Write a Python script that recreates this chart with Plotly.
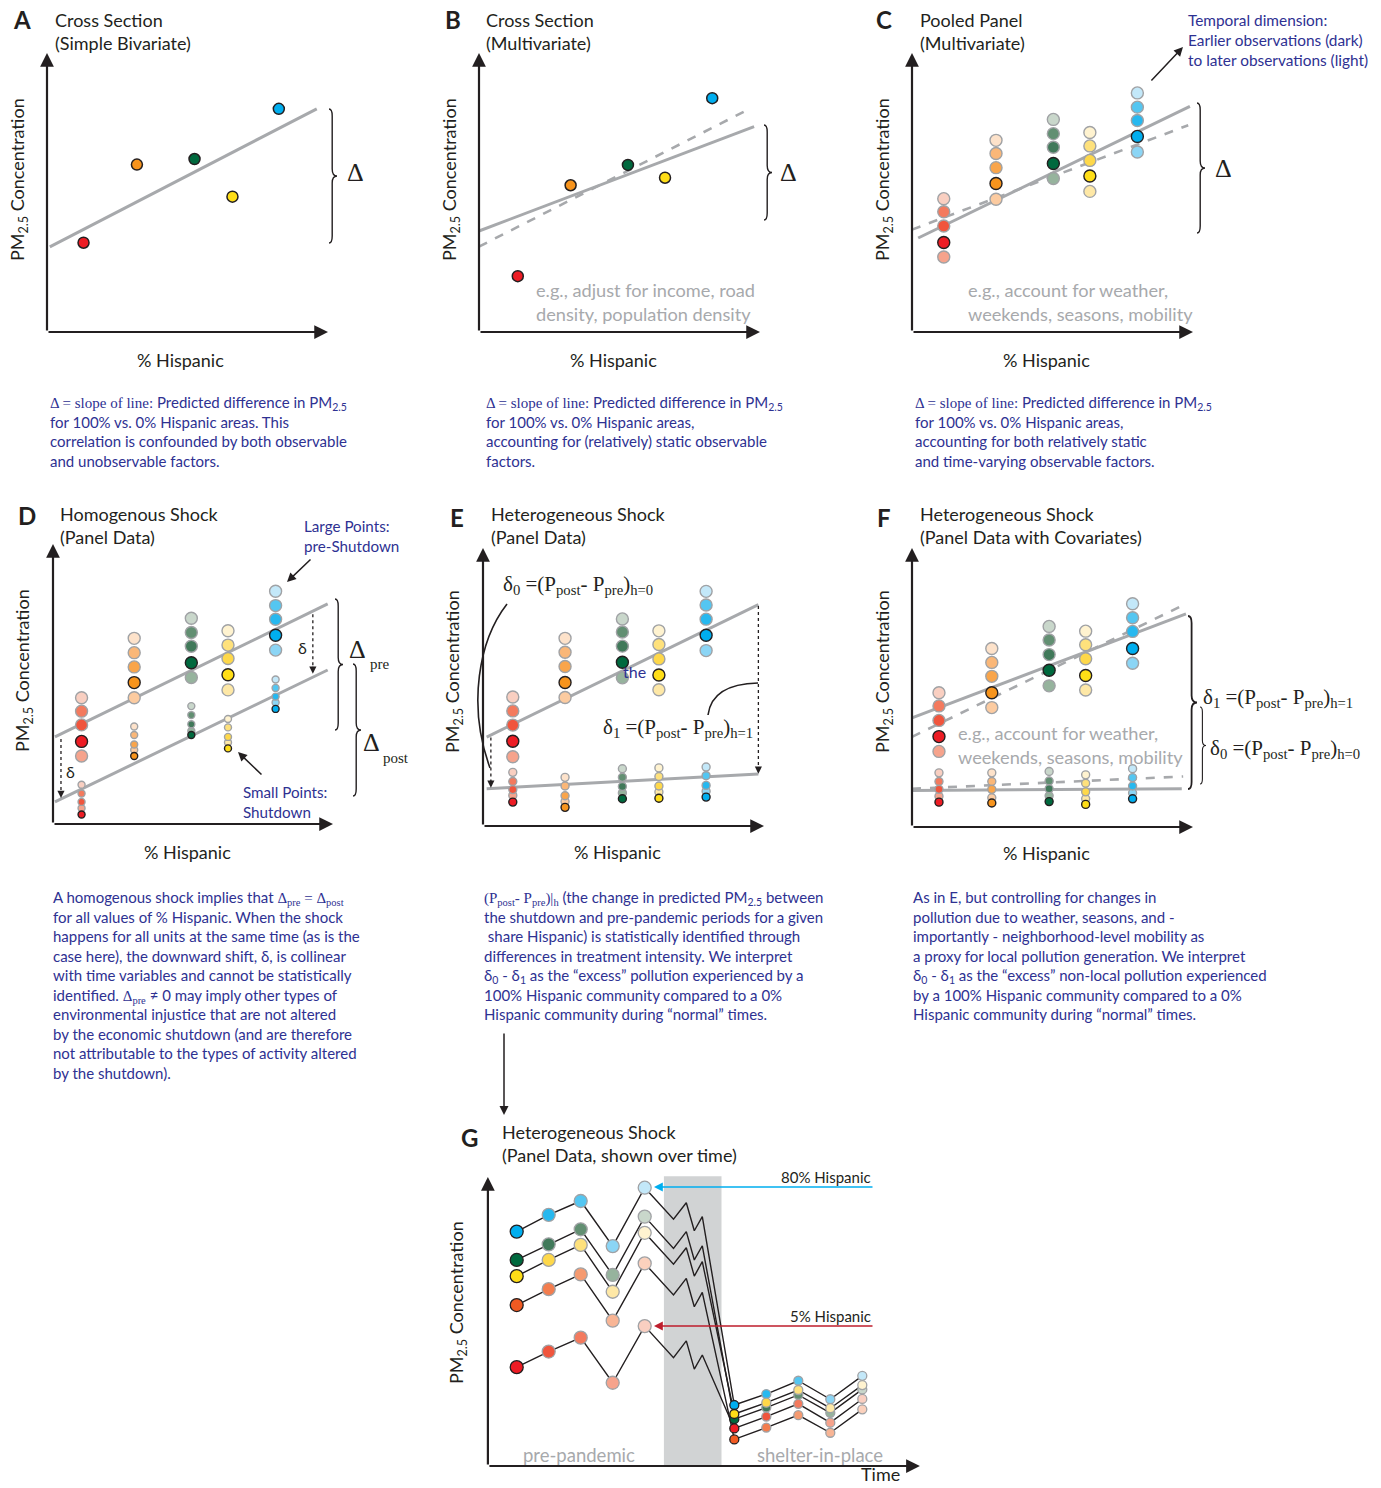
import plotly.graph_objects as go

W, H = 1381, 1488
SANS = "Lato, 'Open Sans', 'DejaVu Sans', sans-serif"
SERIF = "'Liberation Serif', 'DejaVu Serif', serif"
INK = "#231f20"
NAVY = "#2e3192"
LIGHT_GRAY = "#a7a9ac"
EDGE_GRAY = "#a0a2a5"
SHADE = "#d1d3d4"

# ---- colour ramps: earliest observation (dark) to latest (light)
ramp_red = ["#ed1c24", "#f0553d", "#f37a5e", "#f6a38c", "#f9cfc1"]
ramp_orange = ["#f7941d", "#f9a54b", "#fab778", "#fccba0", "#fde2ca"]
ramp_green = ["#00693e", "#41795a", "#628f72", "#96b39d", "#c9d7cb"]
ramp_yellow = ["#ffde17", "#fed84a", "#fee17c", "#fee8a6", "#fff3d0"]
ramp_blue = ["#00aeef", "#27b8ef", "#54c6f1", "#8bd5f5", "#c3e8f9"]
ramp_redorange = ["#f15a22", "#f37d4e", "#f59a70", "#f8b595", "#fbd1bd"]
group_ramps = [ramp_red, ramp_orange, ramp_green, ramp_yellow, ramp_blue]

# ---- A: simple bivariate cross section (% Hispanic vs PM2.5, arbitrary units)
a_hispanic = [13, 32, 52.5, 66, 82.5]
a_pm = [32, 60, 62, 48.5, 80]
a_fit_x, a_fit_y = [1, 96], [30.5, 80]

# ---- B: multivariate cross section
b_hispanic = [13.8, 32.6, 53, 66.2, 83]
b_pm = [20, 52.6, 59.9, 55.3, 83.8]
b_fit_x, b_fit_y = [0, 97.9], [36.2, 73.6]
b_adj_x, b_adj_y = [0, 96.7], [30.6, 80.2]

# ---- C: pooled panel, five observations per area (time order t0..t4)
c_hispanic = [11.3, 29.9, 50.3, 63.3, 80.2]
c_pm = [
    [32.1, 38.0, 43.1, 26.9, 47.8],
    [53.2, 58.9, 64.0, 47.6, 68.7],
    [60.4, 66.2, 71.1, 55.0, 76.2],
    [55.9, 61.5, 66.7, 50.4, 71.5],
    [70.1, 75.8, 80.6, 64.5, 85.7],
]
c_fit_x, c_fit_y = [2.2, 98.9], [33.7, 80.9]
c_adj_x, c_adj_y = [0, 98.3], [36.7, 74.1]

# ---- D: homogenous shock
d_hispanic = [10.2, 29, 49.4, 62.5, 79.5]
d_pm_pre = [
    [29.5, 35.4, 40.3, 24.3, 45.1],
    [50.5, 56.1, 61.2, 45.1, 66.3],
    [57.6, 63.5, 68.4, 52.3, 73.5],
    [53.3, 59.1, 63.9, 47.9, 69.0],
    [67.4, 73.1, 78.0, 62.1, 83.1],
]
d_pm_post = [
    [3.4, 7.9, 10.9, 5.6, 14.0],
    [24.3, 28.4, 31.8, 26.4, 34.8],
    [31.8, 35.6, 38.9, 33.2, 42.1],
    [27.0, 31.1, 34.5, 29.1, 37.5],
    [41.1, 45.5, 48.6, 43.4, 51.6],
]
d_fit_pre_x, d_fit_pre_y = [0.7, 98.1], [31.1, 78.6]
d_fit_post_x, d_fit_post_y = [0.7, 98.1], [7.9, 55.0]

# ---- E: heterogeneous shock
e_hispanic = [10.6, 29.2, 49.6, 62.6, 79.4]
e_pm_pre = [
    [30.5, 36.3, 41.4, 24.9, 46.4],
    [51.6, 57.4, 62.5, 46.2, 67.5],
    [58.9, 64.7, 69.8, 53.3, 74.5],
    [54.3, 60.1, 65.3, 49.0, 70.2],
    [68.6, 74.4, 79.5, 63.1, 84.4],
]
e_pm_post = [
    [8.6, 13.1, 16.0, 11.0, 19.3],
    [6.7, 10.9, 14.4, 8.8, 17.5],
    [9.8, 14.2, 17.5, 11.9, 20.6],
    [10.0, 14.4, 17.8, 12.2, 20.9],
    [10.4, 14.6, 18.1, 12.5, 21.2],
]
e_fit_pre_x, e_fit_pre_y = [1.3, 98], [32.0, 79.6]
e_fit_post_x, e_fit_post_y = [1.3, 98], [13.4, 18.7]

# ---- F: heterogeneous shock with covariates
f_hispanic = [9.6, 28.4, 48.8, 61.8, 78.5]
f_pm_pre = [
    [32.4, 38.2, 43.4, 27.1, 48.1],
    [48.1, 54.0, 59.0, 42.8, 64.0],
    [56.2, 61.8, 67.0, 50.6, 71.9],
    [54.3, 60.3, 65.3, 49.1, 70.2],
    [64.0, 70.1, 75.0, 58.7, 80.0],
]
f_pm_post = [
    [8.9, 13.5, 16.3, 11.0, 19.4],
    [8.6, 13.5, 16.3, 10.5, 19.4],
    [9.1, 13.7, 16.5, 11.2, 19.9],
    [8.1, 12.6, 15.7, 10.1, 18.7],
    [10.1, 14.7, 17.7, 12.2, 20.9],
]
f_fit_pre_x, f_fit_pre_y = [0, 97.5], [39.1, 76.4]
f_adj_pre_x, f_adj_pre_y = [0, 97.5], [32.3, 80.0]
f_fit_post_x, f_fit_post_y = [0, 96], [13.1, 13.7]
f_adj_post_x, f_adj_post_y = [0, 96.5], [13.7, 18.1]

# ---- G: panel over time (weeks)
g_pre_weeks = [1, 2, 3, 4, 5]
g_transition_weeks = [5.9, 6.3, 6.55, 6.8]
g_post_weeks = [7.8, 8.8, 9.8, 10.8, 11.8]
g_shutdown = [5.6, 7.4]
g_series = ["80% Hispanic", "green", "yellow", "orange", "5% Hispanic"]
g_pre = [
    [81.1, 86.9, 91.7, 76.1, 96.3],
    [71.3, 76.7, 81.9, 66.1, 86.3],
    [65.7, 71.3, 76.5, 60.3, 80.7],
    [55.7, 61.2, 66.3, 50.3, 70.1],
    [34.2, 39.6, 44.4, 28.8, 48.4],
]
g_transition = [
    [85.4, 91.1, 81.4, 86.3],
    [75.3, 81.1, 71.3, 76.2],
    [69.8, 75.5, 65.7, 70.7],
    [59.2, 64.9, 55.1, 60.1],
    [37.5, 43.3, 33.5, 38.4],
]
g_post = [
    [21.1, 24.9, 29.5, 23.1, 31.2],
    [16.2, 20.2, 24.6, 18.4, 26.5],
    [18.0, 21.9, 26.3, 20.0, 28.0],
    [9.2, 13.3, 17.6, 11.5, 19.6],
    [13.0, 17.1, 21.5, 15.0, 23.2],
]
g_ramps = [ramp_blue, ramp_green, ramp_yellow, ramp_redorange, ramp_red]

# ---- panel placement: pixel of value 0 and pixels per unit
PANELS = {
    "A": dict(x0=47, sx=2.81, y0=332, sy=2.79, xr=[-5, 105], yr=[-5, 105], ox=0, xt=100),
    "B": dict(x0=479, sx=2.81, y0=332, sy=2.79, xr=[-5, 105], yr=[-5, 105], ox=0, xt=100),
    "C": dict(x0=912, sx=2.81, y0=332, sy=2.79, xr=[-5, 105], yr=[-5, 105], ox=0, xt=100),
    "D": dict(x0=53, sx=2.80, y0=824, sy=2.80, xr=[-5, 105], yr=[-5, 105], ox=0, xt=100),
    "E": dict(x0=483, sx=2.81, y0=826, sy=2.78, xr=[-5, 105], yr=[-5, 105], ox=0, xt=100),
    "F": dict(x0=912, sx=2.81, y0=827, sy=2.79, xr=[-5, 105], yr=[-5, 105], ox=0, xt=100),
    "G": dict(x0=484.7, sx=32, y0=1466, sy=2.89, xr=[-0.4, 13.9], yr=[-4, 104], ox=0.1, xt=13.6),
}
AX = {}
layout_axes = {}
for i, key in enumerate("ABCDEFG", start=1):
    p = PANELS[key]
    sfx = "" if i == 1 else str(i)
    left = p["x0"] + p["xr"][0] * p["sx"]
    right = p["x0"] + p["xr"][1] * p["sx"]
    top = p["y0"] - p["yr"][1] * p["sy"]
    bottom = p["y0"] - p["yr"][0] * p["sy"]
    layout_axes["xaxis" + sfx] = dict(domain=[left / W, right / W], range=p["xr"], visible=False,
                                      anchor="y" + sfx, fixedrange=True)
    layout_axes["yaxis" + sfx] = dict(domain=[1 - bottom / H, 1 - top / H], range=p["yr"], visible=False,
                                      anchor="x" + sfx, fixedrange=True)
    AX[key] = ("x" + sfx, "y" + sfx)

fig = go.Figure()
annotations = []
shapes = []


def fx(x):
    return x / W


def fy(y):
    return 1 - y / H


def line(key, xs, ys, dash=None, width=3, color=LIGHT_GRAY):
    xa, ya = AX[key]
    fig.add_trace(go.Scatter(x=xs, y=ys, mode="lines", xaxis=xa, yaxis=ya, hoverinfo="skip",
                             showlegend=False, line=dict(color=color, width=width, dash=dash)))


def stack(key, xs, groups, size, ramps=group_ramps):
    xa, ya = AX[key]
    order = [4, 3, 2, 1, 0]  # darkest drawn last
    for g in range(len(xs)):
        ys = groups[g]
        ramp = ramps[g]
        fig.add_trace(go.Scatter(
            x=[xs[g]] * 5, y=[ys[k] for k in order], mode="markers", xaxis=xa, yaxis=ya,
            hoverinfo="skip", showlegend=False,
            marker=dict(size=size, color=[ramp[k] for k in order],
                        line=dict(width=1.4, color=[INK if k == 0 else EDGE_GRAY for k in order]))))


def single(key, xs, ys):
    xa, ya = AX[key]
    fig.add_trace(go.Scatter(
        x=xs, y=ys, mode="markers", xaxis=xa, yaxis=ya, hoverinfo="skip", showlegend=False,
        marker=dict(size=11, color=[r[0] for r in group_ramps], line=dict(width=1.5, color=INK))))


def axes_arrows(key):
    p = PANELS[key]
    xa, ya = AX[key]
    for (hx, hy) in [(p["xt"], 0), (p["ox"], 100)]:
        annotations.append(dict(x=hx, y=hy, ax=p["ox"], ay=0, xref=xa, yref=ya, axref=xa, ayref=ya,
                                text="", showarrow=True, arrowhead=2, arrowsize=1.25, arrowwidth=2.2,
                                arrowcolor=INK))


def text(x, y, s, size=18, color=INK, family=SANS, xanchor="left", yanchor="middle", angle=0):
    annotations.append(dict(xref="paper", yref="paper", x=fx(x), y=fy(y), text=s, showarrow=False,
                            font=dict(size=size, color=color, family=family), xanchor=xanchor,
                            yanchor=yanchor, align="left" if xanchor == "left" else xanchor,
                            textangle=angle))


def arrow_px(hx, hy, tx, ty, color=INK, width=1.5, size=1.0, head=2):
    annotations.append(dict(xref="paper", yref="paper", x=fx(hx), y=fy(hy), ax=tx - hx, ay=ty - hy,
                            text="", showarrow=True, arrowhead=head, arrowsize=size, arrowwidth=width,
                            arrowcolor=color))


def path_px(spec, width=1.4, color=INK):
    parts = []
    for cmd, pts in spec:
        parts.append(cmd + " " + " ".join(f"{fx(x):.5f},{fy(y):.5f}" for x, y in pts))
    shapes.append(dict(type="path", xref="paper", yref="paper", path=" ".join(parts),
                       line=dict(color=color, width=width)))


def brace(x, ytop, ybot, w=8, r=7, width=1.4):
    xm = x + w * 0.4
    xr = x + w
    ym = (ytop + ybot) / 2
    path_px([("M", [(x, ytop)]), ("Q", [(xm, ytop), (xm, ytop + r)]), ("L", [(xm, ym - r)]),
             ("Q", [(xm, ym), (xr, ym)]), ("Q", [(xm, ym), (xm, ym + r)]), ("L", [(xm, ybot - r)]),
             ("Q", [(xm, ybot), (x, ybot)])], width=width)


def dotted_drop(key, x, ytop, ybot):
    xa, ya = AX[key]
    shapes.append(dict(type="line", xref=xa, yref=ya, x0=x, x1=x, y0=ytop, y1=ybot + 2,
                       line=dict(color=INK, width=1.3, dash="dot")))
    annotations.append(dict(x=x, y=ybot, ax=x, ay=ybot + 3, xref=xa, yref=ya, axref=xa, ayref=ya,
                            text="", showarrow=True, arrowhead=2, arrowsize=1.1, arrowwidth=1.3,
                            arrowcolor=INK))


def serif(s):
    return f'<span style="font-family:{SERIF}">{s}</span>'


PM = "PM<sub>2.5</sub>"
YLAB = f"{PM} Concentration"
CAP = 15.0
GRAY_SIZE = 18.2

# ---------------- A ----------------
line("A", a_fit_x, a_fit_y)
single("A", a_hispanic, a_pm)
axes_arrows("A")
brace(329, 109, 243)
text(355, 173, "Δ", size=26, family=SERIF, xanchor="center")

# ---------------- B ----------------
line("B", b_fit_x, b_fit_y)
line("B", b_adj_x, b_adj_y, dash="dash", width=2.6)
single("B", b_hispanic, b_pm)
axes_arrows("B")
brace(764, 125, 220)
text(788, 173, "Δ", size=26, family=SERIF, xanchor="center")
text(534, 301.5, "e.g., adjust for income, road<br>density, population density", size=GRAY_SIZE,
     color=LIGHT_GRAY)

# ---------------- C ----------------
line("C", c_fit_x, c_fit_y)
line("C", c_adj_x, c_adj_y, dash="dash", width=2.6)
stack("C", c_hispanic, c_pm, 12)
axes_arrows("C")
brace(1197, 103, 233)
text(1223, 168, "Δ", size=26, family=SERIF, xanchor="center")
text(966, 301.5, "e.g., account for weather,<br>weekends, seasons, mobility", size=GRAY_SIZE,
     color=LIGHT_GRAY)
text(1186, 40, "Temporal dimension:<br>Earlier observations (dark)<br>to later observations (light)",
     size=15.4, color=NAVY)
arrow_px(1183, 47, 1150, 82, width=1.5, size=1.2)

# ---------------- D ----------------
line("D", d_fit_pre_x, d_fit_pre_y)
line("D", d_fit_post_x, d_fit_post_y)
stack("D", d_hispanic, d_pm_pre, 12)
stack("D", d_hispanic, d_pm_post, 7)
axes_arrows("D")
dotted_drop("D", 2.85, 30.4, 9.3)
dotted_drop("D", 92.8, 74.9, 53.7)
text(70, 771, "δ", size=16, xanchor="center")
text(302, 647, "δ", size=16, xanchor="center")
brace(335, 599, 730)
brace(353, 664, 796)
text(357, 650, "Δ", size=26, family=SERIF, xanchor="center")
text(368, 664, "pre", size=15, family=SERIF)
text(371, 743, "Δ", size=26, family=SERIF, xanchor="center")
text(381, 758, "post", size=15, family=SERIF)
text(302, 536, "Large Points:<br>pre-Shutdown", size=15.2, color=NAVY)
arrow_px(287, 582, 312, 558, width=1.5, size=1.2)
text(241, 801.5, "Small Points:<br>Shutdown", size=15.2, color=NAVY)
arrow_px(238, 752, 263, 776, width=1.5, size=1.2)

# ---------------- E ----------------
line("E", e_fit_pre_x, e_fit_pre_y)
line("E", e_fit_post_x, e_fit_post_y)
stack("E", e_hispanic, e_pm_pre, 12)
stack("E", e_hispanic, e_pm_post, 8)
axes_arrows("E")
dotted_drop("E", 2.8, 31.8, 13.8)
dotted_drop("E", 98, 79.1, 18.8)
text(501, 585, "δ<sub>0</sub> =(P<sub>post</sub>- P<sub>pre</sub>)<sub>h=0</sub>", size=21, family=SERIF)
text(601, 728, "δ<sub>1</sub> =(P<sub>post</sub>- P<sub>pre</sub>)<sub>h=1</sub>", size=21, family=SERIF)
path_px([("M", [(507, 604)]), ("C", [(479, 640), (467, 705), (490, 768)])], width=1.6)
path_px([("M", [(708, 715)]), ("Q", [(712, 684), (758, 683)])], width=1.6)
text(634, 671, "the", size=16, color=NAVY, xanchor="center")

# ---------------- F ----------------
line("F", f_fit_pre_x, f_fit_pre_y)
line("F", f_adj_pre_x, f_adj_pre_y, dash="dash", width=2.6)
line("F", f_fit_post_x, f_fit_post_y)
line("F", f_adj_post_x, f_adj_post_y, dash="dash", width=2.6)
stack("F", f_hispanic, f_pm_pre, 12)
stack("F", f_hispanic, f_pm_post, 8)
axes_arrows("F")
text(956, 744.5, "e.g., account for weather,<br>weekends, seasons, mobility", size=GRAY_SIZE,
     color=LIGHT_GRAY)
brace(1188, 616, 789, w=9, width=1.8)
brace(1200, 707, 784, w=6, r=5, width=1.1)
text(1201, 698, "δ<sub>1</sub> =(P<sub>post</sub>- P<sub>pre</sub>)<sub>h=1</sub>", size=21, family=SERIF)
text(1208, 749, "δ<sub>0</sub> =(P<sub>post</sub>- P<sub>pre</sub>)<sub>h=0</sub>", size=21, family=SERIF)

# ---------------- G ----------------
xg, yg = AX["G"]
shapes.append(dict(type="rect", xref=xg, yref=yg, x0=g_shutdown[0], x1=g_shutdown[1], y0=0, y1=100.3,
                   fillcolor=SHADE, line=dict(width=0), layer="below"))
for s in range(len(g_series)):
    fig.add_trace(go.Scatter(
        x=g_pre_weeks + g_transition_weeks + g_post_weeks, y=g_pre[s] + g_transition[s] + g_post[s],
        mode="lines", xaxis=xg, yaxis=yg, hoverinfo="skip", showlegend=False,
        line=dict(color=INK, width=1.4)))
for s in range(len(g_series)):
    ramp = g_ramps[s]
    for weeks, vals, size in [(g_pre_weeks, g_pre[s], 13), (g_post_weeks, g_post[s], 9)]:
        fig.add_trace(go.Scatter(
            x=weeks, y=vals, mode="markers", xaxis=xg, yaxis=yg, hoverinfo="skip", showlegend=False,
            marker=dict(size=size, color=ramp,
                        line=dict(width=1.3, color=[INK] + [EDGE_GRAY] * 4))))
axes_arrows("G")
text(873, 1177, g_series[0], size=15, xanchor="right")
arrow_px(654, 1187, 874, 1187, color="#00aeef", width=1.6, size=1.1)
text(873, 1316, g_series[4], size=15, xanchor="right")
arrow_px(654, 1326, 874, 1326, color="#be1e2d", width=1.6, size=1.1)
text(579, 1455, "pre-pandemic", size=18.5, color=LIGHT_GRAY, xanchor="center")
text(820, 1455, "shelter-in-place", size=18.5, color=LIGHT_GRAY, xanchor="center")
text(880, 1487, "Time", size=18, xanchor="center", yanchor="bottom")
arrow_px(504, 1115, 504, 1032, width=1.5, size=1.2)

# ---------------- titles, letters, axis titles ----------------
letters = [("A", 22, 20), ("B", 453, 20), ("C", 884, 20), ("D", 27, 515), ("E", 457, 517),
           ("F", 884, 517), ("G", 469, 1137)]
for lab, x, y in letters:
    text(x, y, f"<b>{lab}</b>", size=24, xanchor="center")

titles = [
    (53, 31.5, "Cross Section<br>(Simple Bivariate)"),
    (484, 31.5, "Cross Section<br>(Multivariate)"),
    (918, 31.5, "Pooled Panel<br>(Multivariate)"),
    (58, 525, "Homogenous Shock<br>(Panel Data)"),
    (489, 525, "Heterogeneous Shock<br>(Panel Data)"),
    (918, 525, "Heterogeneous Shock<br>(Panel Data with Covariates)"),
    (500, 1143, "Heterogeneous Shock<br>(Panel Data, shown over time)"),
]
for x, y, s in titles:
    text(x, y, s, size=18)

for x, y in [(18, 180), (450, 180), (883, 180), (23, 671), (453, 672), (883, 672), (457, 1303)]:
    text(x, y, YLAB, size=18, xanchor="center", angle=-90)

for x, y in [(180, 360), (613, 360), (1046, 360), (187, 852), (617, 852), (1046, 853)]:
    text(x, y, "% Hispanic", size=18, xanchor="center")

# ---------------- captions ----------------
delta_lead = serif("Δ = slope of line:")
cap_a = (f"{delta_lead} Predicted difference in {PM}<br>for 100% vs. 0% Hispanic areas. This<br>"
         "correlation is confounded by both observable<br>and unobservable factors.")
cap_b = (f"{delta_lead} Predicted difference in {PM}<br>for 100% vs. 0% Hispanic areas,<br>"
         "accounting for (relatively) static observable<br>factors.")
cap_c = (f"{delta_lead} Predicted difference in {PM}<br>for 100% vs. 0% Hispanic areas,<br>"
         "accounting for both relatively static<br>and time-varying observable factors.")
cap_d = ("A homogenous shock implies that " + serif("Δ<sub>pre</sub> = Δ<sub>post</sub>") +
         "<br>for all values of % Hispanic. When the shock<br>happens for all units at the same time (as is the"
         "<br>case here), the downward shift, δ, is collinear<br>with time variables and cannot be statistically"
         "<br>identified. " + serif("Δ<sub>pre</sub>") + " ≠ 0 may imply other types of"
         "<br>environmental injustice that are not altered<br>by the economic shutdown (and are therefore"
         "<br>not attributable to the types of activity altered<br>by the shutdown).")
cap_e = (serif("(P<sub>post</sub>- P<sub>pre</sub>)|<sub>h</sub>") +
         f" (the change in predicted {PM} between<br>the shutdown and pre-pandemic periods for a given"
         "<br> share Hispanic) is statistically identified through<br>differences in treatment intensity. We interpret"
         "<br>δ<sub>0</sub> - δ<sub>1</sub> as the “excess” pollution experienced by a"
         "<br>100% Hispanic community compared to a 0%<br>Hispanic community during “normal” times.")
cap_f = ("As in E, but controlling for changes in<br>pollution due to weather, seasons, and -"
         "<br>importantly - neighborhood-level mobility as<br>a proxy for local pollution generation. We interpret"
         "<br>δ<sub>0</sub> - δ<sub>1</sub> as the “excess” non-local pollution experienced"
         "<br>by a 100% Hispanic community compared to a 0%<br>Hispanic community during “normal” times.")
for x, y, s in [(48, 432, cap_a), (484, 432, cap_b), (913, 432, cap_c), (51, 984.5, cap_d),
                (482, 955.5, cap_e), (911, 955.5, cap_f)]:
    text(x, y, s, size=CAP, color=NAVY)

fig.update_layout(
    width=W, height=H, margin=dict(l=0, r=0, t=0, b=0), showlegend=False,
    paper_bgcolor="white", plot_bgcolor="rgba(0,0,0,0)",
    font=dict(family=SANS, color=INK),
    annotations=annotations, shapes=shapes, **layout_axes,
)
fig.write_html("out.html")
